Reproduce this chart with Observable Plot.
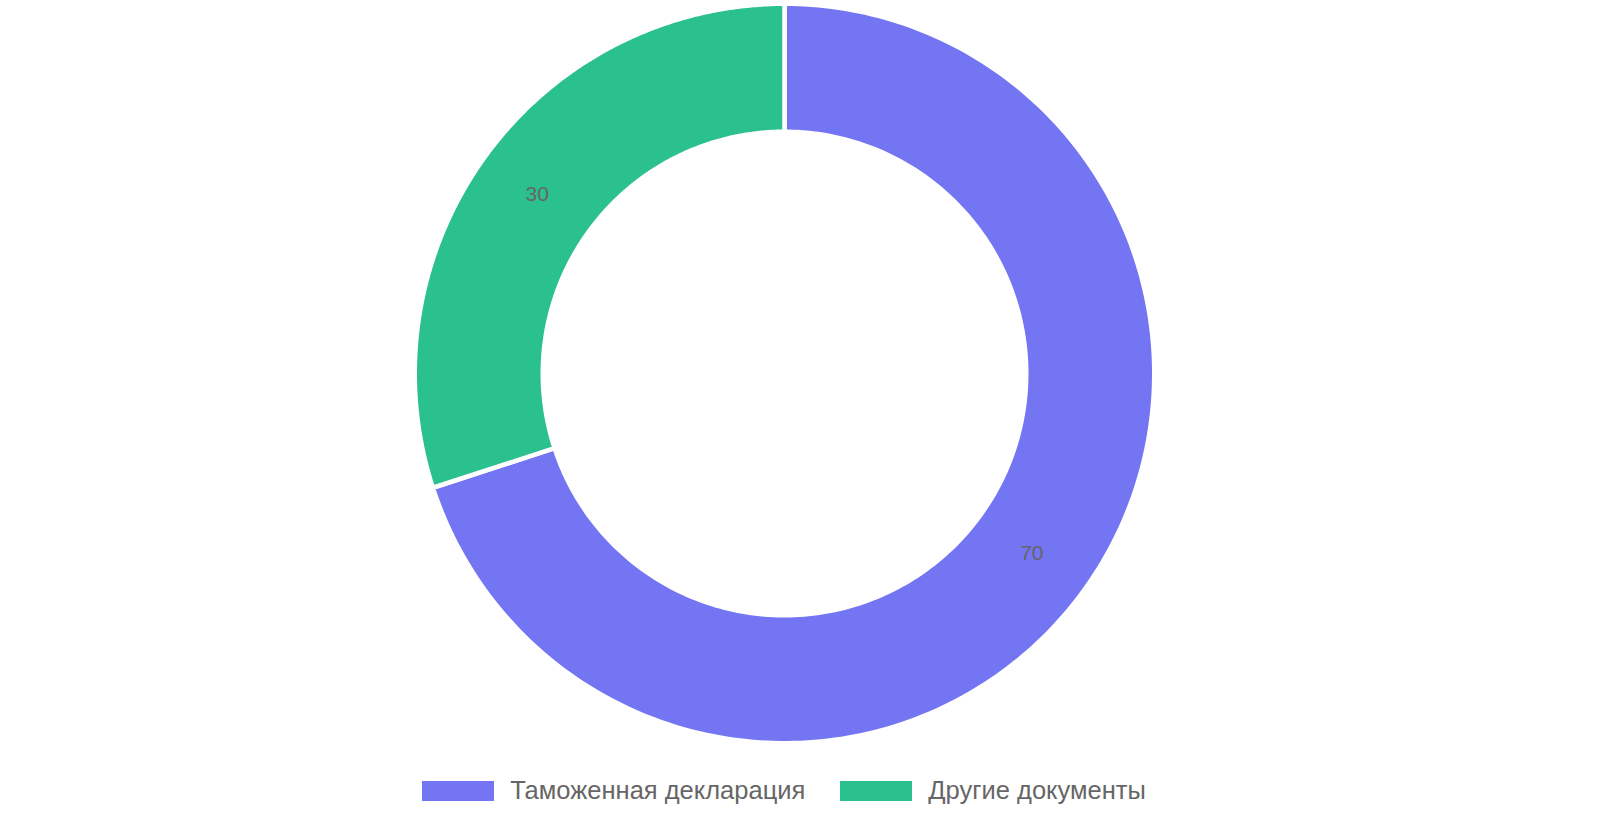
<!DOCTYPE html>
<html>
<head>
<meta charset="utf-8">
<script src="https://cdn.jsdelivr.net/npm/d3@7"></script>
<script src="https://cdn.jsdelivr.net/npm/@observablehq/plot@0.6"></script>
<style>
  html, body { margin: 0; padding: 0; background: #fff; }
  body { width: 1568px; font-family: "Liberation Sans", Arial, sans-serif; }
  #legend { display: flex; justify-content: center; align-items: center; margin-top: 30px; }
  .item { display: flex; align-items: center; margin: 0 17.5px; }
  .sw { width: 72px; height: 20px; margin-right: 16px; }
  .lbl { font-size: 25.5px; color: #666; }
</style>
</head>
<body>
<div id="chart"></div>
<div id="legend"></div>
<script>
const categories = ["Таможенная декларация", "Другие документы"];
const values = [70, 30];
const colors = ["#7375F2", "#2AC18F"];

const innerFrac = 241.75 / 369.75;
const pie = d3.pie().sort(null).value(d => d.value);
const data = categories.map((c, i) => ({category: c, value: values[i]}));
const arcs = pie(data);

function ringPolygon(a) {
  const pts = [];
  const n = 240;
  for (let k = 0; k <= n; k++) {
    const t = a.startAngle + (a.endAngle - a.startAngle) * k / n;
    pts.push([Math.sin(t), -Math.cos(t)]);
  }
  for (let k = n; k >= 0; k--) {
    const t = a.startAngle + (a.endAngle - a.startAngle) * k / n;
    pts.push([innerFrac * Math.sin(t), -innerFrac * Math.cos(t)]);
  }
  pts.push(pts[0]);
  return {type: "Feature", properties: {category: a.data.category, value: a.data.value}, geometry: {type: "Polygon", coordinates: [pts]}};
}

const features = arcs.map(ringPolygon);
const midR = (1 + innerFrac) / 2;
const labels = arcs.map(a => {
  const t = (a.startAngle + a.endAngle) / 2;
  return {x: midR * Math.sin(t), y: -midR * Math.cos(t), text: String(a.data.value)};
});

const chart = Plot.plot({
  width: 1568,
  height: 746,
  marginTop: 3.25,
  marginBottom: 3.25,
  marginLeft: 0,
  marginRight: 0,
  projection: {type: "identity", domain: {type: "MultiPoint", coordinates: [[-1, -1], [1, 1]]}},
  color: {domain: categories, range: colors},
  marks: [
    Plot.geo(features, {fill: d => d.properties.category, stroke: "#fff", strokeWidth: 4.5}),
    Plot.text(labels, {x: "x", y: "y", text: "text", fill: "#666", fontSize: 21, fontFamily: "Liberation Sans, Arial, sans-serif"})
  ]
});
document.getElementById("chart").appendChild(chart);

const legend = document.getElementById("legend");
categories.forEach((c, i) => {
  const item = document.createElement("div");
  item.className = "item";
  const sw = document.createElement("div");
  sw.className = "sw";
  sw.style.background = colors[i];
  const lbl = document.createElement("span");
  lbl.className = "lbl";
  lbl.textContent = c;
  item.appendChild(sw);
  item.appendChild(lbl);
  legend.appendChild(item);
});
</script>
</body>
</html>
